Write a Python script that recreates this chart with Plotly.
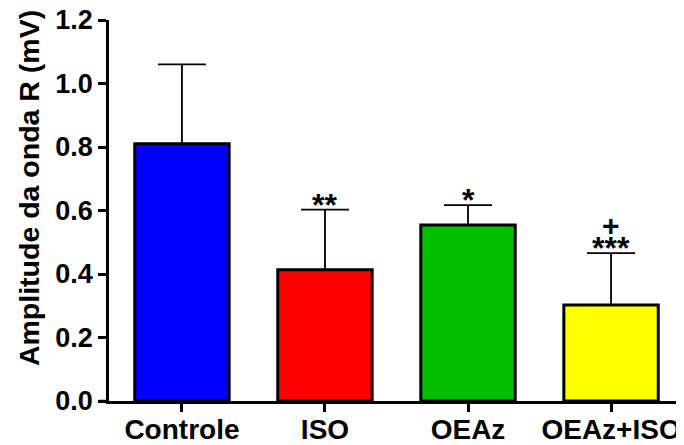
import plotly.graph_objects as go

categories = ["Controle", "ISO", "OEAz", "OEAz+ISO"]
means = [0.81, 0.413, 0.554, 0.302]
err_plus = [0.25, 0.19, 0.063, 0.164]
colors = ["#0000FF", "#FF0000", "#00C000", "#FFFF00"]
sig_marks = ["", "**", "*", "***"]
sig_plus = ["", "", "", "+"]
y_ticks = [0.0, 0.2, 0.4, 0.6, 0.8, 1.0, 1.2]
y_title = "Amplitude da onda R (mV)"

FONT = "Liberation Sans, Arial, sans-serif"

fig = go.Figure()
fig.add_trace(go.Bar(
    x=categories, y=means, width=0.66,
    marker=dict(color=colors, line=dict(color="black", width=3)),
    error_y=dict(type="data", symmetric=False, array=err_plus,
                 arrayminus=[0] * len(means), color="black",
                 thickness=1.8, width=24),
))

for c, m, e, s, p in zip(categories, means, err_plus, sig_marks, sig_plus):
    if s:
        fig.add_annotation(x=c, y=m + e, text=s, showarrow=False,
                           yanchor="middle", yshift=5,
                           font=dict(family=FONT, size=32, color="black", weight="bold"))
    if p:
        fig.add_annotation(x=c, y=m + e, text=p, showarrow=False,
                           yanchor="middle", yshift=28,
                           font=dict(family=FONT, size=30, color="black", weight="bold"))

fig.add_annotation(xref="paper", yref="paper", x=-0.139, y=0.559,
                   text=y_title, textangle=-90, showarrow=False,
                   xanchor="center", yanchor="middle",
                   font=dict(family=FONT, size=28.5, color="black", weight="bold"))

fig.add_shape(type="line", xref="paper", yref="y", x0=-0.018, x1=0, y0=0, y1=0,
              line=dict(color="black", width=2.5))

# page body has an 8px default margin; figure is sized to fit the 684x445 window
fig.update_layout(
    width=676, height=437,
    margin=dict(l=101, r=0, t=12, b=44),
    plot_bgcolor="white", paper_bgcolor="white",
    showlegend=False,
    font=dict(family=FONT, color="black", weight="bold"),
    xaxis=dict(range=[-0.51, 3.51], showline=True, linecolor="black", linewidth=2.5,
               ticks="outside", ticklen=8, tickwidth=2.5, tickcolor="black",
               tickfont=dict(family=FONT, size=28, color="black", weight="bold"),
               ticklabelstandoff=-6, automargin=False, ticklabeloverflow="allow",
               showgrid=False, zeroline=False),
    yaxis=dict(range=[0, 1.2], tickvals=y_ticks,
               ticktext=[f"{v:.1f}" for v in y_ticks],
               showline=True, linecolor="black", linewidth=2.5,
               ticks="outside", ticklen=8, tickwidth=2.5, tickcolor="black",
               tickfont=dict(family=FONT, size=27, color="black", weight="bold"),
               automargin=False, ticklabeloverflow="allow",
               showgrid=False, zeroline=False),
)

fig.write_html("out.html")
